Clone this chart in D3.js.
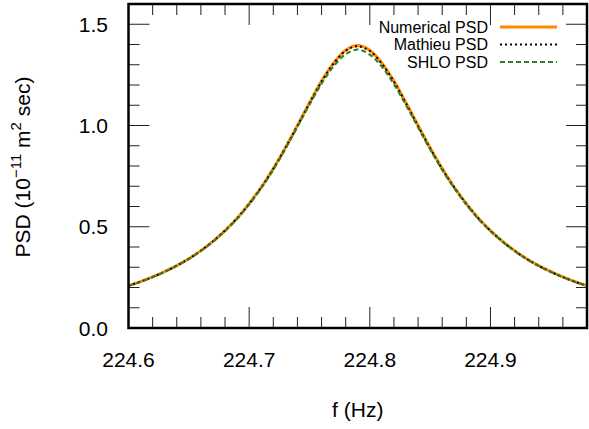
<!DOCTYPE html>
<html>
<head>
<meta charset="utf-8">
<script src="https://cdn.jsdelivr.net/npm/d3@7"></script>
<style>
  html, body { margin: 0; padding: 0; background: #fff; }
  svg text { font-family: "Liberation Sans", Arial, sans-serif; fill: #000; }
</style>
</head>
<body>
<svg id="chart" width="589" height="429"></svg>
<script>
// ---- data ----
const freq = [224.60,224.61,224.62,224.63,224.64,224.65,224.66,224.67,224.68,224.69,
              224.70,224.71,224.72,224.73,224.74,224.75,224.76,224.77,224.78,224.79,
              224.80,224.81,224.82,224.83,224.84,224.85,224.86,224.87,224.88,224.89,
              224.90,224.91,224.92,224.93,224.94,224.95,224.96,224.97,224.98];
const numericalPSD = [0.209,0.229,0.252,0.278,0.308,0.342,0.382,0.428,0.481,0.542,
                      0.614,0.695,0.787,0.890,1.000,1.112,1.219,1.308,1.372,1.395,
                      1.372,1.308,1.219,1.112,1.000,0.890,0.787,0.695,0.614,0.542,
                      0.481,0.428,0.382,0.342,0.308,0.278,0.252,0.229,0.209];
const mathieuPSD   = [0.209,0.229,0.252,0.278,0.308,0.342,0.382,0.428,0.481,0.542,
                      0.613,0.694,0.786,0.889,0.998,1.110,1.217,1.306,1.369,1.391,
                      1.368,1.305,1.216,1.109,0.997,0.888,0.785,0.694,0.613,0.541,
                      0.480,0.427,0.381,0.341,0.307,0.277,0.251,0.228,0.208];
const shloPSD      = [0.208,0.228,0.251,0.277,0.307,0.341,0.380,0.426,0.479,0.539,
                      0.610,0.690,0.781,0.884,0.993,1.103,1.206,1.292,1.352,1.375,
                      1.350,1.290,1.203,1.100,0.990,0.882,0.780,0.689,0.609,0.538,
                      0.478,0.426,0.380,0.340,0.306,0.277,0.251,0.228,0.208];
const xTicks = [224.6, 224.7, 224.8, 224.9];
const xMinor = [224.62,224.64,224.66,224.68,224.72,224.74,224.76,224.78,224.82,224.84,224.86,224.88,224.92,224.94,224.96];
const yTicks = [0.0, 0.5, 1.0, 1.5];
const yMinor = [0.1,0.2,0.3,0.4,0.6,0.7,0.8,0.9,1.1,1.2,1.3,1.4];
const seriesNames = ["Numerical PSD", "Mathieu PSD", "SHLO PSD"];

// ---- layout ----
const svg = d3.select("#chart");
const L = 128.5, R = 587, T = 4, B = 328;
const x = d3.scaleLinear().domain([224.6, 224.98]).range([L, R]);
const y = d3.scaleLinear().domain([0, 1.6]).range([B, T]);

svg.append("defs").append("clipPath").attr("id", "clip")
  .append("rect").attr("x", L).attr("y", T).attr("width", R - L).attr("height", B - T);

// ticks (mirrored, inward)
const tickG = svg.append("g").attr("stroke", "#222").attr("stroke-width", 1);
function xt(v, len) {
  tickG.append("line").attr("x1", x(v)).attr("x2", x(v)).attr("y1", B).attr("y2", B - len);
  tickG.append("line").attr("x1", x(v)).attr("x2", x(v)).attr("y1", T).attr("y2", T + len);
}
function yt(v, len) {
  tickG.append("line").attr("y1", y(v)).attr("y2", y(v)).attr("x1", L).attr("x2", L + len);
  tickG.append("line").attr("y1", y(v)).attr("y2", y(v)).attr("x1", R).attr("x2", R - len);
}
xTicks.forEach(v => xt(v, 21));
xMinor.forEach(v => xt(v, 11));
yTicks.forEach(v => yt(v, 21));
yMinor.forEach(v => yt(v, 11));

// tick labels
svg.append("g").selectAll("text").data(xTicks).join("text")
  .attr("x", d => x(d)).attr("y", 367).attr("text-anchor", "middle")
  .attr("font-size", 21).text(d => d.toFixed(1));
svg.append("g").selectAll("text").data(yTicks).join("text")
  .attr("x", 108).attr("y", d => y(d) + 7.5).attr("text-anchor", "end")
  .attr("font-size", 21).text(d => d.toFixed(1));

// axis labels
svg.append("text").attr("x", (L + R) / 2).attr("y", 417).attr("text-anchor", "middle")
  .attr("font-size", 21).text("f (Hz)");
const yl = svg.append("text").attr("transform", "translate(30,167) rotate(-90)")
  .attr("text-anchor", "middle").attr("font-size", 21);
yl.append("tspan").text("PSD (10");
yl.append("tspan").attr("font-size", 15).attr("dy", -9).text("\u221211");
yl.append("tspan").attr("dy", 9).text(" m");
yl.append("tspan").attr("font-size", 15).attr("dy", -9).text("2");
yl.append("tspan").attr("dy", 9).text(" sec)");

// lines
const data = [numericalPSD, mathieuPSD, shloPSD];
const styles = [
  { color: "#ff8c00", width: 3, dash: null },
  { color: "#000000", width: 2, dash: "2,3" },
  { color: "#2e7d32", width: 2, dash: "5,3" }
];
const line = d3.line().x((d, i) => x(freq[i])).y(d => y(d)).curve(d3.curveCatmullRom);
const plotG = svg.append("g").attr("clip-path", "url(#clip)");
data.forEach((s, k) => {
  plotG.append("path").datum(s).attr("d", line).attr("fill", "none")
    .attr("stroke", styles[k].color).attr("stroke-width", styles[k].width)
    .attr("stroke-dasharray", styles[k].dash);
});

// legend
const legY = [27, 44.5, 62];
seriesNames.forEach((n, k) => {
  svg.append("text").attr("x", 488).attr("y", legY[k] + 5.5).attr("text-anchor", "end")
    .attr("font-size", 16).text(n);
  svg.append("line").attr("x1", 500).attr("x2", 557).attr("y1", legY[k]).attr("y2", legY[k])
    .attr("stroke", styles[k].color).attr("stroke-width", styles[k].width)
    .attr("stroke-dasharray", styles[k].dash);
});

// border
svg.append("rect").attr("x", L).attr("y", T).attr("width", R - L).attr("height", B - T)
  .attr("fill", "none").attr("stroke", "#000").attr("stroke-width", 2.5);
</script>
</body>
</html>
